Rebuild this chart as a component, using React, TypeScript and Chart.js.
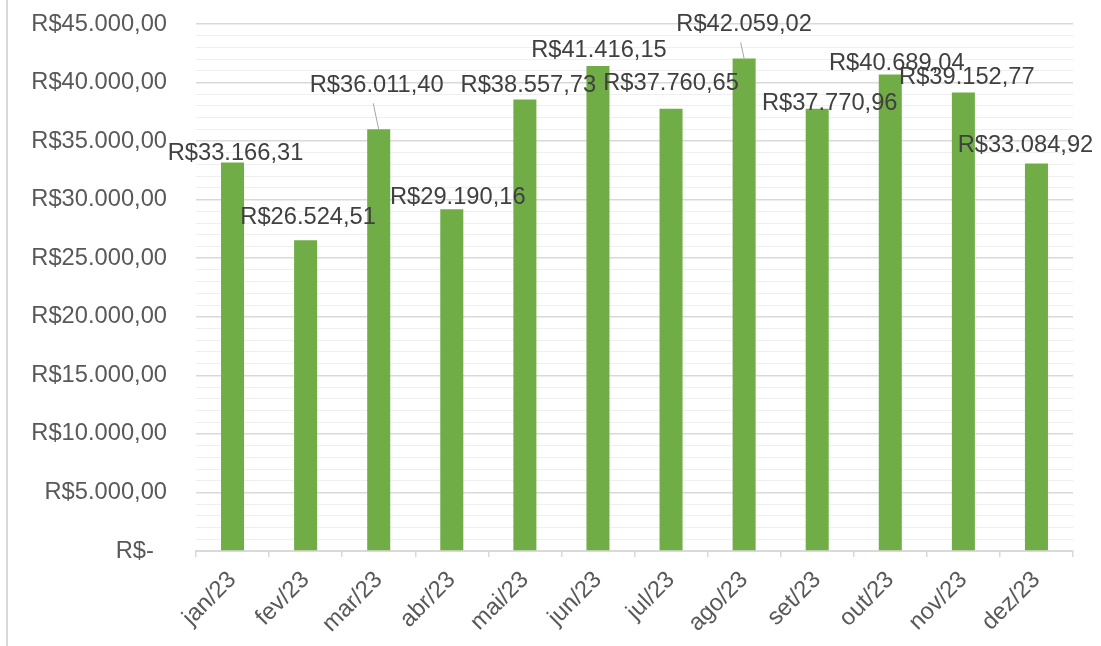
import React, { useEffect, useRef } from "react";
import { Chart, registerables } from "chart.js";

Chart.register(...registerables);

const categories = ["jan/23", "fev/23", "mar/23", "abr/23", "mai/23", "jun/23", "jul/23", "ago/23", "set/23", "out/23", "nov/23", "dez/23"];
const values = [33166.31, 26524.51, 36011.4, 29190.16, 38557.73, 41416.15, 37760.65, 42059.02, 37770.96, 40689.04, 39152.77, 33084.92];
// manual label placement (Excel-style), offsets in px from bar top-centre
const labelDx = [3, 2.5, -2, 6, 3.5, 1, 0, 0, 12.5, 6.5, 3.5, -11];
const labelDy = [-9.5, -23, -44, -12, -14, -16, -25, -34, -5, -11, -15, -18];
const labelLeader = [false, false, true, false, false, false, false, true, false, false, false, false];

const FONT = '"Liberation Sans", Arial, sans-serif';
const FONT_SIZE = 23.7;

function fmtBRL(v: number): string {
  if (v === 0) return "R$-  ";
  const fixed = v.toFixed(2);
  const [intPart, dec] = fixed.split(".");
  const withDots = intPart.replace(/\B(?=(\d{3})+(?!\d))/g, ".");
  return "R$" + withDots + "," + dec;
}

const frameAndLabels = {
  id: "frameAndLabels",
  beforeDraw(chart: any) {
    const ctx = chart.ctx;
    ctx.save();
    ctx.fillStyle = "#ffffff";
    ctx.fillRect(0, 0, chart.width, chart.height);
    ctx.fillStyle = "#d9d9d9";
    ctx.fillRect(6, 0, 2, chart.height);
    ctx.restore();
  },
  afterDatasetsDraw(chart: any) {
    const ctx = chart.ctx;
    const meta = chart.getDatasetMeta(0);
    ctx.save();
    ctx.font = `${FONT_SIZE}px ${FONT}`;
    ctx.textAlign = "center";
    ctx.textBaseline = "middle";
    meta.data.forEach((bar: any, i: number) => {
      const cx = bar.x + labelDx[i];
      const cy = bar.y + labelDy[i];
      if (labelLeader[i]) {
        ctx.strokeStyle = "#a6a6a6";
        ctx.lineWidth = 1;
        ctx.beginPath();
        ctx.moveTo(cx - 3.5, cy + 18);
        ctx.lineTo(bar.x, bar.y);
        ctx.stroke();
      }
      ctx.fillStyle = "#404040";
      ctx.fillText(fmtBRL(values[i]), cx, cy);
    });
    ctx.restore();
  },
};

export default function App() {
  const canvasRef = useRef<HTMLCanvasElement | null>(null);

  useEffect(() => {
    document.body.style.margin = "0";
    const canvas = canvasRef.current;
    if (!canvas) return;
    const chart = new Chart(canvas, {
      type: "bar",
      data: {
        labels: categories,
        datasets: [
          {
            data: values,
            backgroundColor: "#70ad47",
            borderWidth: 0,
            barPercentage: 1,
            categoryPercentage: 0.315,
          },
        ],
      },
      options: {
        responsive: false,
        animation: false,
        layout: { padding: { left: 0, right: 28, top: 24, bottom: 0 } },
        plugins: {
          legend: { display: false },
          tooltip: { enabled: false },
        },
        scales: {
          x: {
            offset: true,
            grid: {
              display: true,
              drawOnChartArea: false,
              drawTicks: true,
              tickLength: 6,
              color: "#d9d9d9",
              lineWidth: 1.5,
            },
            border: { display: true, color: "#d9d9d9", width: 2 },
            ticks: {
              color: "#595959",
              font: { family: FONT, size: FONT_SIZE },
              maxRotation: 45,
              minRotation: 45,
              padding: 9,
              autoSkip: false,
            },
            afterFit(scale: any) {
              scale.height = 95;
              scale.paddingLeft = 0;
              scale.paddingRight = 0;
              scale.paddingTop = 0;
              scale.paddingBottom = 0;
            },
          },
          y: {
            min: 0,
            max: 45000,
            grid: {
              drawTicks: false,
              tickLength: 0,
              color: (c: any) => (c.tick && c.tick.value % 5000 === 0 ? "#d9d9d9" : "#efefef"),
              lineWidth: (c: any) => (c.tick && c.tick.value % 5000 === 0 ? 1.5 : 1),
            },
            border: { display: false },
            ticks: {
              stepSize: 1000,
              autoSkip: false,
              padding: 29,
              color: "#595959",
              font: { family: FONT, size: FONT_SIZE },
              callback: (v: any) => (Number(v) % 5000 === 0 ? fmtBRL(Number(v)) : ""),
            },
            afterFit(scale: any) {
              scale.width = 196;
              scale.paddingTop = 0;
              scale.paddingBottom = 0;
              scale.paddingLeft = 0;
              scale.paddingRight = 0;
            },
          },
        },
      },
      plugins: [frameAndLabels],
    });
    return () => chart.destroy();
  }, []);

  return (
    <div style={{ width: 1101, height: 646 }}>
      <canvas ref={canvasRef} width={1101} height={646} style={{ display: "block" }} />
    </div>
  );
}
